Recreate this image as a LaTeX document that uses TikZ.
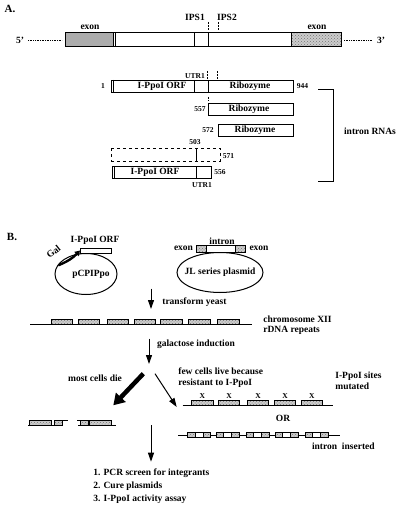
\documentclass[tikz,border=0pt]{standalone}
\usepackage{fontspec}
\setmainfont{Liberation Serif}
\usetikzlibrary{arrows.meta,patterns}

\begin{document}
\begin{tikzpicture}[x=1pt,y=1pt,yscale=-1,xscale=1,
  lbl/.style={font=\bfseries\fontsize{9.5}{10}\selectfont, inner sep=0pt},
  num/.style={font=\bfseries\fontsize{7.5}{8}\selectfont, inner sep=0pt},
  hdr/.style={font=\bfseries\fontsize{11}{12}\selectfont, inner sep=0pt},
  solidgray/.style={fill=gray!65},
  hatchgray/.style={preaction={fill=gray!40}, pattern=crosshatch dots, pattern color=gray!90!black},
  tick/.style={densely dotted, line width=0.5pt},
  flow/.style={-{Triangle[length=9pt,width=6pt]}, line width=1pt},
  line width=0.7pt]
\useasboundingbox (0,0) rectangle (400,508);

%%% A. intron and intron RNAs
\node[hdr] (labA) at (10,9) {A.};

%Shape: Rectangle, exon - intron - exon
\draw[solidgray] (65,32.5) rectangle (113.3,46.5);
\draw[hatchgray] (291.7,32.5) rectangle (341,46.5);
\draw (65,32.5) rectangle (341,46.5);
\draw (115.7,32.5) -- (115.7,46.5) (194.3,32.5) -- (194.3,46.5) (208.7,32.5) -- (208.7,46.5);
\draw[densely dotted] (28,40) -- (62,40) (344,40) -- (372,40);
% Text Node
\node[lbl] (five) at (20,40) {5'};
\node[lbl] (three) at (381,40) {3'};
\node[lbl] (exonL) at (90,27) {exon};
\node[lbl] (exonR) at (317,27) {exon};
\node[lbl] (ips1) at (195,17) {IPS1};
\node[lbl] (ips2) at (227,17) {IPS2};
\draw[tick] (208.3,22) -- (208.3,31) (218.3,22) -- (218.3,31);

%Shape: Rectangle, full length
\draw (111,80) rectangle (293,92.3);
\draw (113.3,80) -- (113.3,92.3) (194.3,80) -- (194.3,92.3) (208.3,80) -- (208.3,92.3);
\node[num] (n1) at (103,86) {1};
\node[num] (n944) at (302.5,86) {944};
\node[lbl] (orfA) at (162,86) {I-PpoI ORF};
\node[lbl] (ribA) at (250,86) {Ribozyme};
\node[num] (utrA) at (195,76) {UTR1};
\draw[tick] (207.3,71) -- (207.3,79) (217.3,71) -- (217.3,79);

%Shape: Rectangle, 557
\draw[tick] (208.3,97) -- (208.3,100.5);
\draw (208.3,103.3) rectangle (293.3,115);
\node[num] (n557) at (200,109) {557};
\node[lbl] (ribB) at (249,109) {Ribozyme};

%Shape: Rectangle, 572
\draw (218.3,124.3) rectangle (293.3,136.7);
\node[num] (n572) at (208,130.5) {572};
\node[lbl] (ribC) at (255,130.5) {Ribozyme};

%Shape: Rectangle, dashed
\draw[dashed] (111.7,148.3) rectangle (220,161);
\draw (196,148.3) -- (196,161);
\node[num] (n503) at (195,142) {503};
\node[num] (n571) at (228.5,156) {571};

%Shape: Rectangle, 556
\draw (112.3,166) rectangle (211,178.3);
\draw (114.7,166) -- (114.7,178.3) (196,166) -- (196,178.3);
\node[lbl] (orfB) at (155,172) {I-PpoI ORF};
\node[num] (n556) at (220,172) {556};
\node[num] (utrB) at (202,185) {UTR1};

%Shape: bracket
\draw (318,89) -- (333,89) -- (333,181) -- (318,181);
\node[lbl] (rnas) at (370,131.7) {intron RNAs};

%%% B. screen
\node[hdr] (labB) at (12,237) {B.};

%Shape: Ellipse, pCPIPpo
\draw[line width=1pt] (86,274) ellipse [x radius=31, y radius=20.5];
\node[lbl] (pcpname) at (91,274) {pCPIPpo};
\draw[fill=white] (80,248) rectangle (111.7,253.7);
\node[lbl] (orfC) at (95,240.5) {I-PpoI ORF};
\coordinate (gal1) at (58.3,265.3);
\coordinate (gal2) at (80,250.5);
\draw[line width=2.4pt, -{Triangle[length=5pt,width=6pt]}] (gal1) to[bend left=12] (gal2);
\node[lbl, rotate=38] (gal) at (53.5,251.5) {Gal};

%Shape: Ellipse, JL series plasmid
\draw[line width=1pt] (220,272.5) ellipse [x radius=43, y radius=20];
\node[lbl] (jlname) at (220,272.5) {JL series plasmid};
\draw[fill=white] (196.7,245.7) rectangle (245,252.3);
\draw[hatchgray] (196.7,245.7) rectangle (206.7,252.3);
\draw[hatchgray] (235,245.7) rectangle (245,252.3);
\node[lbl] (exonC) at (183.5,248.5) {exon};
\node[lbl] (exonD) at (259,248.5) {exon};
\node[lbl] (intr) at (222,241) {intron};

% transform yeast
\coordinate (t1) at (151,288.5);
\coordinate (t2) at (151,309);
\draw[flow] (t1) -- (t2);
\node[lbl, anchor=west] (trans) at (162,301.7) {transform yeast};

%Shape: chromosome
\draw (30,324.5) -- (251.7,324.5);
\foreach \x in {51,78,107,134,160.3,188.7,217.3}
  \draw[hatchgray] (\x,319.5) rectangle (\x+21.7,324.5);
\node[lbl, anchor=west] (chr) at (263,319) {chromosome XII};
\node[lbl, anchor=west] (rdna) at (263,330.5) {rDNA repeats};

% galactose induction
\coordinate (g1) at (149,338.5);
\coordinate (g2) at (149,364);
\draw[flow] (g1) -- (g2);
\node[lbl, anchor=west] (gal3) at (156.7,344) {galactose induction};

% most cells die / few cells live
\coordinate (d1) at (143.3,373.7);
\coordinate (d2) at (113.3,405.3);
\draw[line width=4.5pt, -{Triangle[length=11pt,width=13pt]}] (d1) -- (d2);
\node[lbl] (die) at (95,378.7) {most cells die};
\coordinate (l1) at (155,373.7);
\coordinate (l2) at (176.7,407);
\draw[flow] (l1) -- (l2);
\node[lbl, anchor=west, align=left, font=\bfseries\fontsize{9.5}{11.6}\selectfont] (live) at (178,377.5) {few cells live because\\resistant to I-PpoI};
\node[lbl, anchor=west, align=left, font=\bfseries\fontsize{9.5}{10.5}\selectfont] (sites) at (335,381) {I-PpoI sites\\mutated};

%Shape: mutated sites
\draw (182.7,405) -- (333.3,405);
\foreach \x in {191.7,218.3,247.3,274.3,301} {
  \draw[hatchgray] (\x,400.5) rectangle (\x+21.5,405);
  \node[num] at (\x+10.75,396.5) {X};
}
\node[lbl] (or) at (283,418.3) {OR};

%Shape: broken pieces
\draw (28,425) -- (62,425) (62,420.5) -- (68,420.5);
\draw[hatchgray] (29.3,420.5) rectangle (51.7,425);
\draw[hatchgray] (54.3,420.5) rectangle (62,425);
\draw (77,420.5) -- (80,420.5) (78,425) -- (116,425);
\draw[hatchgray] (80,420.5) rectangle (88.3,425);
\draw[hatchgray] (89.3,420.5) rectangle (111.7,425);

%Shape: intron inserted
\draw (178.3,435) -- (340,435);
\foreach \x in {187.7,216,246,275,305} {
  \draw[fill=white] (\x,432.8) rectangle (\x+23,437.2);
  \draw[hatchgray] (\x,432.8) rectangle (\x+7.5,437.2);
  \draw[hatchgray] (\x+15.5,432.8) rectangle (\x+23,437.2);
}
\node[lbl, anchor=west] (ins) at (311.7,446.7) {intron\ \ inserted};

% final step
\coordinate (f1) at (151,425);
\coordinate (f2) at (151,461.7);
\draw[flow] (f1) -- (f2);
\node[lbl, anchor=west, align=left, font=\bfseries\fontsize{9.5}{13}\selectfont] (steps) at (93,486) {1. PCR screen for integrants\\2. Cure plasmids\\3. I-PpoI activity assay};

\end{tikzpicture}
\end{document}
